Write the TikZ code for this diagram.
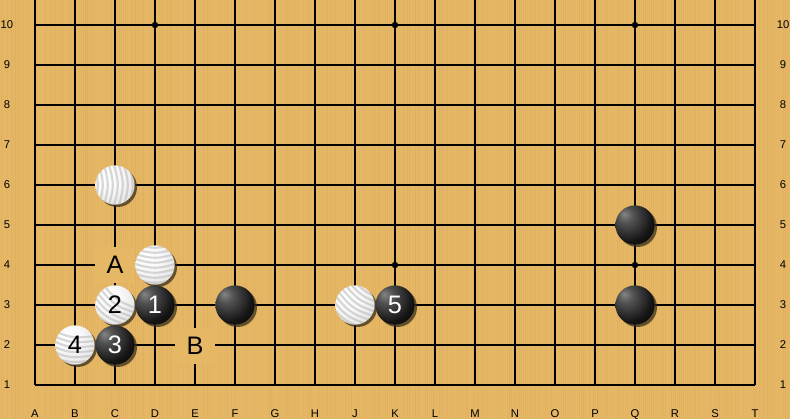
\documentclass[tikz,border=0pt]{standalone}
\usepackage{fontspec}
\setmainfont{Liberation Sans}
\usetikzlibrary{shadows}
\definecolor{board}{RGB}{230,184,102}
\definecolor{grain}{RGB}{196,146,66}
\pgfdeclareradialshading{bstoneshade}{\pgfpoint{-14bp}{14bp}}{color(0bp)=(black!48); color(10bp)=(black!68); color(30bp)=(black!92); color(50bp)=(black); color(80bp)=(black)}
\pgfdeclareradialshading{wstoneshade}{\pgfpoint{-12bp}{12bp}}{color(0bp)=(white); color(18bp)=(white!97!black); color(40bp)=(white!87!black); color(58bp)=(white!72!black); color(80bp)=(white!65!black)}
\begin{document}
\begin{tikzpicture}[x=0.025cm,y=-0.025cm,
  gridline/.style={line width=1.05pt, black},
  starpt/.style={circle, fill=black, inner sep=0pt, minimum size=0.16cm},
  stonebase/.style={circle, inner sep=0pt, minimum size=0.98cm,
    font=\fontsize{18}{18}\selectfont,
    general shadow={fill=black!75!board, opacity=0.75, shadow xshift=0.06cm, shadow yshift=-0.06cm}},
  bstone/.style={stonebase, shade, shading=bstoneshade, text=white},
  wstone/.style={stonebase, shade, shading=wstoneshade, text=black,
    path picture={
      \begin{scope}[shift={(path picture bounding box.center)}]
        \pgftransformrotate{#1}
        \foreach \k in {-24,-19,...,26}
          \draw[black!30, line width=1.5pt, opacity=0.5] (-30,\k) .. controls (0,\k+9) .. (30,\k);
      \end{scope}}},
  wstone/.default=0,
  boardletter/.style={fill=board, inner sep=0pt, minimum width=1cm, minimum height=0.9cm,
    font=\fontsize{18}{18}\selectfont},
  coordlabel/.style={inner sep=0pt, font=\fontsize{8}{8}\selectfont}
]
\useasboundingbox (0,0) rectangle (790,419);
\fill[board] (0,0) rectangle (790,419);
\pgfmathsetseed{7}
\foreach \i in {0,...,394}{
  \pgfmathsetmacro\op{rnd*0.22}
  \draw[grain, opacity=\op, line width=0.6pt] (2*\i+1,0) -- (2*\i+1,419);
}
% grid
\foreach \i in {0,...,18}
  \draw[gridline] (35+40*\i,0) -- (35+40*\i,385);
\foreach \j in {0,...,9}
  \draw[gridline] (35,25+40*\j) -- (755,25+40*\j);
% star points
\node[starpt] (sD10) at (155,25) {};
\node[starpt] (sK10) at (395,25) {};
\node[starpt] (sQ10) at (635,25) {};
\node[starpt] (sK4) at (395,265) {};
\node[starpt] (sQ4) at (635,265) {};
% coordinates
\foreach \r in {1,...,10}{
  \node[coordlabel] (rl\r) at (7,425-40*\r) {\r};
  \node[coordlabel] (rr\r) at (783,425-40*\r) {\r};
}
\foreach \l [count=\i from 0] in {A,B,C,D,E,F,G,H,J,K,L,M,N,O,P,Q,R,S,T}
  \node[coordlabel, anchor=base] (cl\l) at (35+40*\i,418) {\l};
% letters
\node[boardletter] (labA) at (115,265) {A};
\node[boardletter] (labB) at (195,346) {B};
% stones
\node[wstone=90] (C6) at (115,185) {};
\node[wstone=0] (D4) at (155,265) {};
\node[wstone=-35] (C3) at (115,305) {2};
\node[bstone] (D3) at (155,305) {1};
\node[bstone] (F3) at (235,305) {};
\node[wstone=-35] (J3) at (355,305) {};
\node[bstone] (K3) at (395,305) {5};
\node[wstone=-10] (B2) at (75,345) {4};
\node[bstone] (C2) at (115,345) {3};
\node[bstone] (Q5) at (635,225) {};
\node[bstone] (Q3) at (635,305) {};
\end{tikzpicture}
\end{document}
